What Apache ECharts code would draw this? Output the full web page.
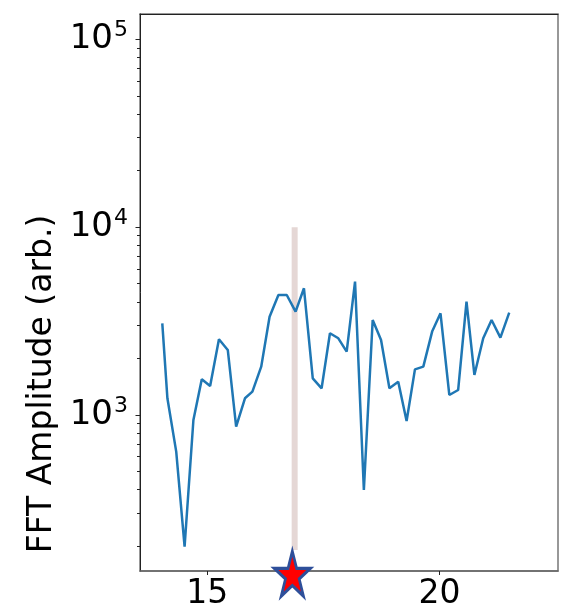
<!DOCTYPE html>
<html>
<head>
<meta charset="utf-8">
<script src="https://cdn.jsdelivr.net/npm/echarts@6/dist/echarts.min.js"></script>
<style>
html,body{margin:0;padding:0;background:#fff;}
#chart{width:570px;height:613px;}
</style>
</head>
<body>
<div id="chart"></div>
<script>
// FFT spectrum (x in chart units, y = amplitude)
const freq = [14.03, 14.14, 14.33, 14.51, 14.70, 14.88, 15.06, 15.25, 15.44, 15.62,
  15.81, 15.97, 16.16, 16.34, 16.53, 16.71, 16.90, 17.08, 17.27, 17.46,
  17.64, 17.82, 18.00, 18.18, 18.37, 18.56, 18.74, 18.92, 19.11, 19.29,
  19.47, 19.65, 19.84, 20.02, 20.21, 20.40, 20.58, 20.75, 20.94, 21.12,
  21.31, 21.50];
const amplitude = [3076, 1227, 638, 199, 940, 1549, 1427, 2530, 2219, 867,
  1227, 1331, 1808, 3337, 4355, 4355, 3548, 4728, 1567, 1387,
  2723, 2560, 2173, 5129, 399, 3206, 2506, 1387, 1504, 929,
  1750, 1808, 2780, 3479, 1278, 1358, 4010, 1633, 2560, 3206,
  2582, 3507];
// marker line and star
const markerX = [16.88, 16.88];
const markerY = [191, 10000];
const starX = [16.83];
const starY = [143];
// axis ranges / ticks
const xRange = [13.55, 22.55];
const yRange = [147.7, 136400];
const xTicks = [15, 20];
const yTicks = [1000, 10000, 100000];
const yMinorTicks = [200,300,400,500,600,700,800,900,2000,3000,4000,5000,6000,7000,8000,9000,20000,30000,40000,50000,60000,70000,80000,90000];
const yTitle = 'FFT Amplitude (arb.)';

const FONT = 'DejaVu Sans';
const chart = echarts.init(document.getElementById('chart'), null, {renderer: 'canvas'});

const lineData = freq.map((x, i) => [x, amplitude[i]]);
const markerData = markerX.map((x, i) => [x, markerY[i]]);
const starData = starX.map((x, i) => [x, starY[i]]);

const starPath = 'path://M0,-20 L4.49,-6.18 L19.02,-6.18 L7.27,2.36 L11.76,16.18 L0,7.64 L-11.76,16.18 L-7.27,2.36 L-19.02,-6.18 L-4.49,-6.18 Z';

chart.setOption({
  animation: false,
  backgroundColor: '#ffffff',
  grid: {left: 140, right: 12, top: 14, bottom: 42, show: true, borderColor: '#777', borderWidth: 1.5, backgroundColor: 'transparent'},
  xAxis: [{
    type: 'value', min: xRange[0], max: xRange[1], position: 'bottom',
    axisLine: {show: true, lineStyle: {color: '#666', width: 1.5}},
    axisTick: {show: true, customValues: xTicks, length: 4, inside: false, lineStyle: {color: '#222'}},
    axisLabel: {customValues: xTicks, margin: 7, fontFamily: FONT, fontSize: 33, color: '#000'},
    splitLine: {show: false}
  }, {
    type: 'value', min: xRange[0], max: xRange[1], position: 'top',
    axisLine: {show: true, lineStyle: {color: '#222', width: 1}},
    axisTick: {show: false}, axisLabel: {show: false}, splitLine: {show: false}
  }],
  yAxis: [{
    type: 'log', logBase: 10, min: yRange[0], max: yRange[1], position: 'left',
    axisLine: {show: true, lineStyle: {color: '#222', width: 1}},
    axisTick: {show: true, customValues: yTicks, length: 4.5, lineStyle: {color: '#222'}},
    axisLabel: {
      customValues: yTicks, margin: 12, color: '#000',
      formatter: v => '{b|10}{s|' + Math.round(Math.log10(v)) + '}',
      rich: {
        b: {fontFamily: FONT, fontSize: 34, lineHeight: 40, color: '#000'},
        s: {fontFamily: FONT, fontSize: 22, lineHeight: 22, verticalAlign: 'top', color: '#000', padding: [0,0,0,1]}
      }
    },
    splitLine: {show: false}
  }, {
    type: 'log', logBase: 10, min: yRange[0], max: yRange[1], position: 'left', offset: 0,
    axisLine: {show: false},
    axisTick: {show: true, customValues: yMinorTicks, length: 3, lineStyle: {color: '#222', width: 1}},
    axisLabel: {show: false},
    splitLine: {show: false}
  }],
  graphic: [{
    type: 'text', x: 42, y: 384, rotation: Math.PI / 2,
    style: {text: yTitle, fontFamily: FONT, fontSize: 33, fill: '#000', align: 'center', verticalAlign: 'middle'}
  }],
  series: [{
    type: 'line', data: markerData, symbol: 'none', z: 1,
    lineStyle: {color: '#e5d7d5', width: 6, cap: 'butt'}
  }, {
    type: 'line', data: lineData, symbol: 'none', z: 2,
    lineStyle: {color: '#1f77b4', width: 2.5}
  }, {
    type: 'scatter', data: starData, symbol: starPath, symbolSize: [36, 45], clip: false, z: 5,
    itemStyle: {color: '#ff0000', borderColor: '#2e4f9a', borderWidth: 3, borderJoin: 'miter', borderMiterLimit: 10, opacity: 1}
  }]
});
</script>
</body>
</html>
